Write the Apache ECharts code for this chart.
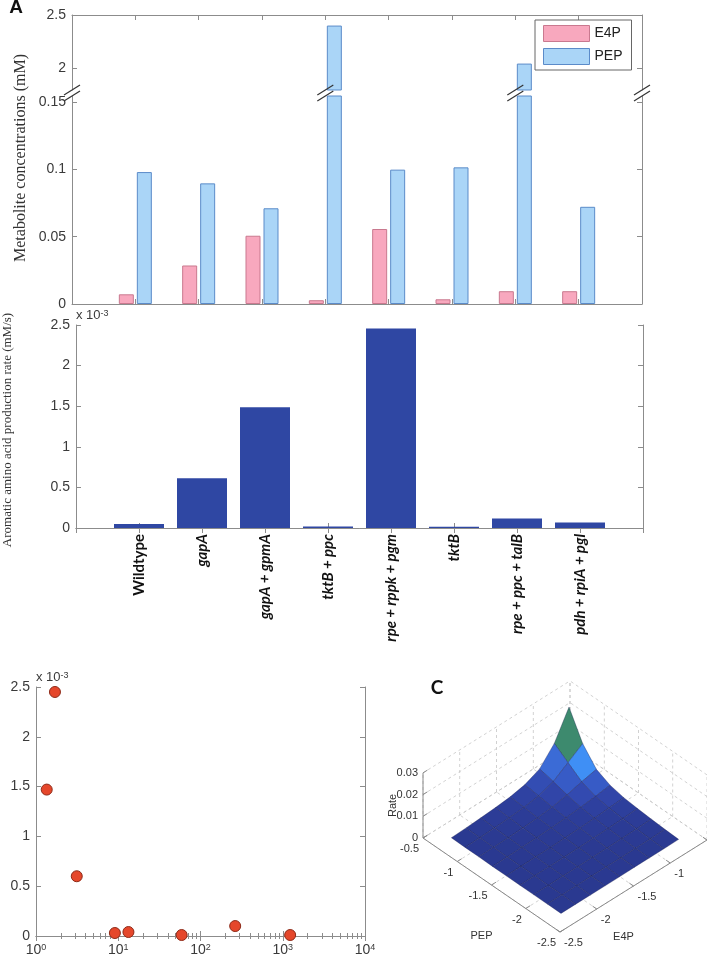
<!DOCTYPE html>
<html>
<head>
<meta charset="utf-8">
<style>
html, body { margin: 0; padding: 0; background: #fff; }
#main { width: 707px; height: 957px; }
</style>
<script src="https://cdn.jsdelivr.net/npm/echarts@6.0.0/dist/echarts.min.js"></script>
</head>
<body>
<div id="main"></div>
<script>
// strains
var strains = ['Wildtype', 'gapA', 'gapA + gpmA', 'tktB + ppc', 'rpe + rppk + pgm', 'tktB', 'rpe + ppc + talB', 'pdh + rpiA + pgl'];
// metabolite concentrations (mM)
var e4p = [0.0072, 0.0286, 0.0507, 0.0028, 0.0557, 0.0035, 0.0095, 0.0095];
var pep = [0.098, 0.0896, 0.0711, 2.40, 0.0998, 0.1015, 2.04, 0.0722];
// aromatic amino acid production rate (x 10^-3 mM/s)
var rate = [0.05, 0.614, 1.486, 0.02, 2.457, 0.015, 0.118, 0.069];
// panel B points (x on log axis, y in x 10^-3)
var ratioB = [1.35, 1.70, 3.13, 9.1, 13.3, 59, 264, 1230];
var rateB = [1.47, 2.45, 0.60, 0.03, 0.04, 0.01, 0.10, 0.01];
// tick values
var concHighTicks = [2, 2.5];
var concLowTicks = [0, 0.05, 0.1, 0.15];
// panel C surface (log10 concentrations), rows = PEP, cols = E4P
var pepGrid = [-2.3, -2.1, -1.9, -1.7, -1.5, -1.3, -1.1, -0.9, -0.7];
var e4pGrid = [-2.3, -2.1, -1.9, -1.7, -1.5, -1.3, -1.1, -0.9, -0.7];
var rateSurf = [
  [0.0000, 0.0000, 0.0000, 0.0000, 0.0000, 0.0001, 0.0001, 0.0001, 0.0002],
  [0.0000, 0.0000, 0.0000, 0.0001, 0.0001, 0.0001, 0.0002, 0.0003, 0.0005],
  [0.0000, 0.0000, 0.0001, 0.0001, 0.0002, 0.0003, 0.0004, 0.0006, 0.0009],
  [0.0000, 0.0001, 0.0001, 0.0002, 0.0003, 0.0005, 0.0007, 0.0010, 0.0014],
  [0.0000, 0.0001, 0.0002, 0.0003, 0.0005, 0.0008, 0.0011, 0.0016, 0.0021],
  [0.0000, 0.0001, 0.0003, 0.0005, 0.0008, 0.0012, 0.0018, 0.0026, 0.0035],
  [0.0001, 0.0002, 0.0004, 0.0007, 0.0011, 0.0018, 0.0032, 0.0050, 0.0065],
  [0.0001, 0.0003, 0.0006, 0.0010, 0.0016, 0.0026, 0.0050, 0.0095, 0.0140],
  [0.0002, 0.0005, 0.0009, 0.0014, 0.0021, 0.0035, 0.0065, 0.0140, 0.0265]
];
var pepTicks = [-2.5, -2, -1.5, -1, -0.5];
var e4pTicks = [-2.5, -2, -1.5, -1, -0.5];
var rateZTicks = [0, 0.01, 0.02, 0.03];

var AXIS = '#8c8c8c', LABEL = '#3a3a3a';
var SANS = '"Liberation Sans", Arial, sans-serif';
var SERIF = '"Liberation Serif", "Times New Roman", serif';
var PINK = '#f8a8be', PINK_E = '#c9798f', BLUE = '#aad5f7', BLUE_E = '#5b8bc9';

// broken axis limits
var hiMin = 1.79, hiMax = 2.5, loMax = 0.1545;

var cats = [''].concat(strains, ['']);
function pad(arr) { return ['-'].concat(arr, ['-']); }

// 3D view used for panel C (pixels per unit in the hidden grid)
var C_ORIGIN = [180, 272], PV = [-68.5, -47], EV = [73.5, -46], ZV = -2170;
function proj(pv, ev, z) {
  var p = pv - pepTicks[0], e = ev - e4pTicks[0];
  return [C_ORIGIN[0] + p * PV[0] + e * EV[0], C_ORIGIN[1] + p * PV[1] + e * EV[1] + z * ZV];
}

// flat shading: face colour from one corner value
var surfStops = [0, 0.0015, 0.003, 0.0045, 0.0065, 0.0095, 0.012, 0.0135];
var surfColors = ['#2a3990', '#2d3e9b', '#3248ad', '#3656c0', '#3b6bd6', '#3f8ff5', '#3f8ff5', '#3d8a6e'];
function surfColor(v) {
  for (var k = 1; k < surfStops.length; k++) {
    if (v <= surfStops[k]) {
      var t = (v - surfStops[k - 1]) / (surfStops[k] - surfStops[k - 1]);
      return echarts.color.lerp(t, [surfColors[k - 1], surfColors[k]]);
    }
  }
  return surfColors[surfColors.length - 1];
}

var cells = [];
for (var i = 0; i < pepGrid.length - 1; i++) {
  for (var j = 0; j < e4pGrid.length - 1; j++) {
    cells.push([i, j, rateSurf[i + 1][j]]);
  }
}
cells.sort(function (a, b) { return (b[0] + b[1]) - (a[0] + a[1]); });

var pMin = pepTicks[0], pMax = pepTicks[pepTicks.length - 1];
var eMin = e4pTicks[0], eMax = e4pTicks[e4pTicks.length - 1];
var zMax = rateZTicks[rateZTicks.length - 1];
var wallSegs = [];
e4pTicks.forEach(function (t) {
  wallSegs.push([[pMax, t, 0], [pMax, t, zMax]]);
  wallSegs.push([[pMin, t, 0], [pMax, t, 0]]);
});
pepTicks.forEach(function (t) {
  wallSegs.push([[t, eMax, 0], [t, eMax, zMax]]);
  wallSegs.push([[t, eMin, 0], [t, eMax, 0]]);
});
rateZTicks.forEach(function (t) {
  wallSegs.push([[pMax, eMin, t], [pMax, eMax, t]]);
  wallSegs.push([[pMin, eMax, t], [pMax, eMax, t]]);
});

var breakIdx = [0];
pep.forEach(function (v, k) { if (v > loMax) breakIdx.push(k + 1); });
breakIdx.push(cats.length - 1);

function catAxis(grid, pos, extra) {
  var ax = {
    type: 'category', gridIndex: grid, data: cats, boundaryGap: false, position: pos,
    axisLine: { show: true, lineStyle: { color: AXIS } },
    axisTick: { show: true, inside: true, length: 5, interval: 0, lineStyle: { color: AXIS } },
    axisLabel: { show: false },
    splitLine: { show: false }
  };
  return Object.assign(ax, extra || {});
}
function valAxis(grid, pos, min, max, ticks, showLabel, extra) {
  var ax = {
    type: 'value', gridIndex: grid, position: pos, min: min, max: max,
    axisLine: { show: true, lineStyle: { color: AXIS } },
    axisTick: { show: true, inside: true, length: 5, lineStyle: { color: AXIS } },
    axisLabel: { show: showLabel, color: LABEL, fontSize: 14, fontFamily: SANS, margin: 6 },
    splitLine: { show: false }
  };
  if (ticks) {
    ax.axisTick.customValues = ticks;
    ax.axisLabel.customValues = ticks;
  } else {
    ax.interval = 0.5;
  }
  return Object.assign(ax, extra || {});
}
function logAxis(pos, showLabel) {
  return {
    type: 'log', logBase: 10, gridIndex: 3, position: pos, min: 1, max: 10000, splitNumber: 4,
    axisLine: { show: true, lineStyle: { color: AXIS } },
    axisTick: { show: true, inside: true, length: 5, lineStyle: { color: AXIS } },
    minorTick: { show: true, splitNumber: 9, length: 3, lineStyle: { color: AXIS } },
    axisLabel: {
      show: showLabel, color: LABEL, fontSize: 14, fontFamily: SANS, margin: 7,
      formatter: function (v) { return '10{s|' + Math.round(Math.log(v) / Math.LN10) + '}'; },
      rich: { s: { fontSize: 9, verticalAlign: 'top', color: LABEL, fontFamily: SANS } }
    },
    splitLine: { show: false }
  };
}
var expName = {
  name: 'x 10{s|-3}', nameLocation: 'end', nameGap: 3,
  nameTextStyle: {
    align: 'left', verticalAlign: 'bottom', fontSize: 13, color: LABEL, fontFamily: SANS,
    rich: { s: { fontSize: 9, verticalAlign: 'top', color: LABEL, fontFamily: SANS } }
  }
};

var option = {
  animation: false,
  backgroundColor: '#fff',
  textStyle: { fontFamily: SANS },
  grid: [
    { left: 72, top: 15, width: 570, height: 75 },
    { left: 72, top: 96, width: 570, height: 208 },
    { left: 76, top: 325, width: 567, height: 203 },
    { left: 36, top: 687, width: 329, height: 253 },
    { left: 380, top: 660, width: 327, height: 297 }
  ],
  legend: {
    data: [
      { name: 'E4P', itemStyle: { color: PINK, borderColor: PINK_E, borderWidth: 1 } },
      { name: 'PEP', itemStyle: { color: BLUE, borderColor: BLUE_E, borderWidth: 1 } }
    ],
    left: 535, top: 20, orient: 'vertical', icon: 'rect',
    itemWidth: 46, itemHeight: 16, itemGap: 6, padding: [5, 9, 5, 8],
    borderColor: '#666', borderWidth: 1, backgroundColor: '#fff',
    textStyle: { fontSize: 14, fontFamily: SANS, color: '#222' }
  },
  xAxis: [
    catAxis(0, 'top'),
    catAxis(1, 'bottom'),
    catAxis(2, 'bottom', {
      data: cats.map(function (s) {
        return { value: s, textStyle: { fontStyle: s === 'Wildtype' ? 'normal' : 'italic' } };
      }),
      axisLabel: {
        show: true, interval: 0, rotate: 90, margin: 6,
        fontFamily: 'Lato, "Open Sans", sans-serif', fontWeight: 'bold', fontSize: 15, color: '#111'
      }
    }),
    catAxis(2, 'top'),
    logAxis('bottom', true),
    logAxis('top', false),
    { type: 'value', gridIndex: 4, min: 0, max: 327, show: false }
  ],
  yAxis: [
    valAxis(0, 'left', hiMin, hiMax, concHighTicks, true),
    valAxis(0, 'right', hiMin, hiMax, concHighTicks, false),
    valAxis(1, 'left', 0, loMax, concLowTicks, true),
    valAxis(1, 'right', 0, loMax, concLowTicks, false),
    valAxis(2, 'left', 0, 2.5, null, true, expName),
    valAxis(2, 'right', 0, 2.5, null, false),
    valAxis(3, 'left', 0, 2.5, null, true, expName),
    valAxis(3, 'right', 0, 2.5, null, false),
    { type: 'value', gridIndex: 4, min: 0, max: 297, inverse: true, show: false }
  ],
  series: [
    {
      name: 'E4P', type: 'bar', xAxisIndex: 0, yAxisIndex: 0, barWidth: 15, barGap: '20%',
      data: pad(e4p.map(function (v) { return v > hiMin ? v : '-'; })),
      itemStyle: { color: PINK, borderColor: PINK_E, borderWidth: 1 }
    },
    {
      name: 'PEP', type: 'bar', xAxisIndex: 0, yAxisIndex: 0, barWidth: 15, barGap: '20%',
      data: pad(pep.map(function (v) { return v > hiMin ? v : '-'; })),
      itemStyle: { color: BLUE, borderColor: BLUE_E, borderWidth: 1 }
    },
    {
      name: 'E4P', type: 'bar', xAxisIndex: 1, yAxisIndex: 2, barWidth: 15, barGap: '20%',
      data: pad(e4p),
      itemStyle: { color: PINK, borderColor: PINK_E, borderWidth: 1 }
    },
    {
      name: 'PEP', type: 'bar', xAxisIndex: 1, yAxisIndex: 2, barWidth: 15, barGap: '20%',
      data: pad(pep),
      itemStyle: { color: BLUE, borderColor: BLUE_E, borderWidth: 1 }
    },
    {
      // axis break marks
      type: 'custom', xAxisIndex: 1, yAxisIndex: 2, silent: true, z: 5,
      encode: { x: 0, y: 1 },
      data: breakIdx.map(function (k) { return [k, loMax]; }),
      renderItem: function (params, api) {
        var pt = api.coord([api.value(0), api.value(1)]);
        var cx = pt[0], cy = pt[1] - 3;
        var kids = [-3, 3].map(function (o) {
          return {
            type: 'line',
            shape: { x1: cx - 8, y1: cy + 5 + o, x2: cx + 8, y2: cy - 5 + o },
            style: { stroke: '#333', lineWidth: 1.2 }
          };
        });
        return { type: 'group', children: kids };
      }
    },
    {
      name: 'rate', type: 'bar', xAxisIndex: 2, yAxisIndex: 4, barWidth: 50,
      data: pad(rate),
      itemStyle: { color: '#2f47a3' }
    },
    {
      name: 'B', type: 'scatter', xAxisIndex: 4, yAxisIndex: 6, symbolSize: 11,
      data: ratioB.map(function (x, k) { return [x, rateB[k]]; }),
      itemStyle: { color: '#e5472b', borderColor: '#8e2a18', borderWidth: 1, opacity: 1 }
    },
    {
      // panel C: dashed grid on the back walls and floor
      type: 'custom', xAxisIndex: 6, yAxisIndex: 8, silent: true, z: 1,
      data: wallSegs.map(function (s, k) { return [k]; }),
      renderItem: function (params, api) {
        var s = wallSegs[params.dataIndex];
        var a = api.coord(proj(s[0][0], s[0][1], s[0][2]));
        var b = api.coord(proj(s[1][0], s[1][1], s[1][2]));
        return {
          type: 'line', shape: { x1: a[0], y1: a[1], x2: b[0], y2: b[1] },
          style: { stroke: '#c6c6c6', lineWidth: 0.8, lineDash: [3, 3] }
        };
      }
    },
    {
      // panel C: surface
      type: 'custom', xAxisIndex: 6, yAxisIndex: 8, silent: true, z: 2,
      data: cells,
      renderItem: function (params, api) {
        var c = cells[params.dataIndex], i = c[0], j = c[1];
        var corners = [[i, j], [i + 1, j], [i + 1, j + 1], [i, j + 1]].map(function (q) {
          return api.coord(proj(pepGrid[q[0]], e4pGrid[q[1]], rateSurf[q[0]][q[1]]));
        });
        return {
          type: 'polygon', shape: { points: corners },
          style: { fill: surfColor(c[2]), stroke: 'rgba(18,22,70,0.55)', lineWidth: 0.6 }
        };
      }
    },
    {
      // panel C: axes, ticks and labels
      type: 'custom', xAxisIndex: 6, yAxisIndex: 8, silent: true, z: 3,
      data: [[0]],
      renderItem: function (params, api) {
        function P(a, b, z) { return api.coord(proj(a, b, z)); }
        var kids = [];
        function line(a, b) {
          kids.push({ type: 'line', shape: { x1: a[0], y1: a[1], x2: b[0], y2: b[1] },
            style: { stroke: '#8a8a8a', lineWidth: 1 } });
        }
        function text(t, pt, dx, dy, align, rot) {
          kids.push({ type: 'text', x: pt[0] + dx, y: pt[1] + dy, rotation: rot || 0,
            style: { text: t, fill: '#333', font: '11px ' + SANS, align: align, verticalAlign: 'middle' } });
        }
        line(P(pMin, eMin, 0), P(pMax, eMin, 0));
        line(P(pMin, eMin, 0), P(pMin, eMax, 0));
        line(P(pMax, eMin, 0), P(pMax, eMin, zMax));
        pepTicks.forEach(function (t) {
          line(P(t, eMin, 0), P(t, eMin + 0.06, 0));
          text(String(t), P(t, eMin, 0), -4, 11, 'right');
        });
        e4pTicks.forEach(function (t) {
          line(P(pMin, t, 0), P(pMin + 0.06, t, 0));
          text(String(t), P(pMin, t, 0), 4, 11, 'left');
        });
        rateZTicks.forEach(function (t) {
          line(P(pMax, eMin, t), P(pMax, eMin + 0.06, t));
          text(String(t), P(pMax, eMin, t), -5, 0, 'right');
        });
        text('PEP', P((pMin + pMax) / 2, eMin, 0), -10, 51, 'center');
        text('E4P', P(pMin, (eMin + eMax) / 2, 0), -10, 51, 'center');
        text('Rate', P(pMax, eMin, zMax / 2), -30, 0, 'center', Math.PI / 2);
        return { type: 'group', children: kids };
      }
    }
  ],
  graphic: [
    { type: 'text', x: 16, y: 8, style: { text: 'A', font: 'bold 19px ' + SANS, fill: '#111', align: 'center', verticalAlign: 'middle' } },
    { type: 'text', x: 437, y: 688, style: { text: 'C', font: 'bold 19px Lato, ' + SANS, fill: '#111', align: 'center', verticalAlign: 'middle' } },
    { type: 'text', x: 21, y: 158, rotation: Math.PI / 2,
      style: { text: 'Metabolite concentrations (mM)', font: '16px ' + SERIF, fill: '#333', align: 'center', verticalAlign: 'middle' } },
    { type: 'text', x: 8, y: 430, rotation: Math.PI / 2,
      style: { text: 'Aromatic amino acid production rate (mM/s)', font: '13px ' + SERIF, fill: '#333', align: 'center', verticalAlign: 'middle' } }
  ]
};

var chart = echarts.init(document.getElementById('main'));
chart.setOption(option);
</script>
</body>
</html>
